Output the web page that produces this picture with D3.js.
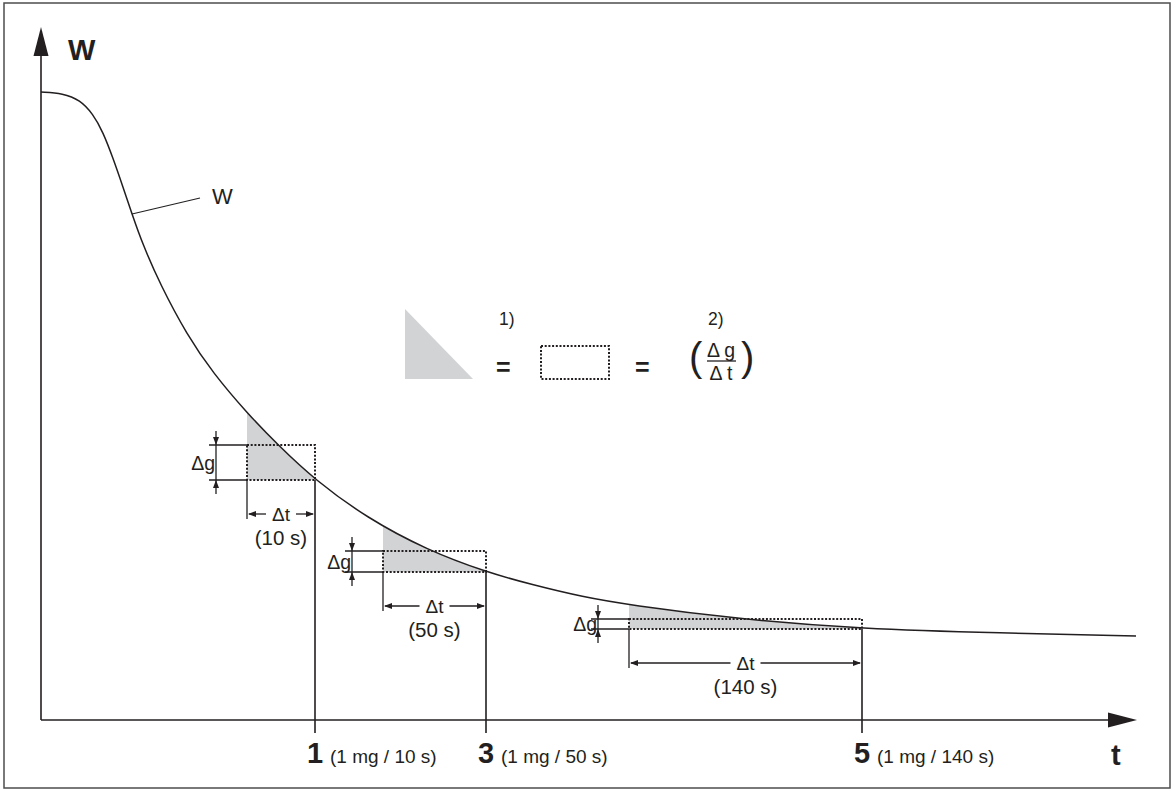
<!DOCTYPE html>
<html><head><meta charset="utf-8">
<script src="https://cdn.jsdelivr.net/npm/d3@7"></script>
<style>
body{margin:0;background:#fff}
text{font-family:"Liberation Sans",Arial,Helvetica,sans-serif;fill:#231f20}
</style>
</head><body>
<svg id="c" width="1174" height="791"></svg>
<script>
// ---- data (arbitrary schematic units) ----
const curveT = [0,2.2,3.9,5.2,6.2,7.2,8.2,9.1,10.2,11.9,14.6,17.2,20.6,23.7,27.4,32.6,38.6,44.5,49.2,54.2,58.8,69.6,82.1,95.9,109.5];
const curveW = [62.8,62.67,62.0,60.6,58.8,56.2,53.3,50.6,47.5,43.6,38.5,34.7,30.7,27.5,24.0,20.2,17.0,14.8,13.5,12.3,11.5,10.1,9.1,8.7,8.4];
const stepLabels = ["1","3","5"];
const stepRates = ["(1 mg / 10 s)","(1 mg / 50 s)","(1 mg / 140 s)"];
const intervalLabels = ["(10 s)","(50 s)","(140 s)"];
const tStart = [20.6,34.2,58.8];
const tEnd = [27.4,44.5,82.1];
const gTop = [27.5,16.9,10.1];
const gBottom = [24.0,14.8,9.1];
const curveLabel = {t:9.1, w:50.6, lt:15.9, lw:52.2, text:"W"};

const ink = "#231f20", gray = "#d1d3d4";
const svg = d3.select("#c");
const x = d3.scaleLinear().domain([0,109.6]).range([41,1137]);
const y = d3.scaleLinear().domain([0,69.3]).range([720,27]);
const pts = curveT.map((t,i)=>({t, w:curveW[i]}));

// border
svg.append("rect").attr("x",4).attr("y",3).attr("width",1166).attr("height",785)
  .attr("fill","none").attr("stroke","#4d4d4d").attr("stroke-width",1.5);

// axes
const x0=x(0), y0=y(0);
svg.append("line").attr("x1",x0).attr("y1",y0).attr("x2",x0).attr("y2",56).attr("stroke",ink).attr("stroke-width",1.6);
svg.append("path").attr("d",`M${x0},${y(69.3)}L${x0-7.5},56L${x0+7.5},56Z`).attr("fill",ink);
svg.append("line").attr("x1",x0).attr("y1",y0).attr("x2",1108).attr("y2",y0).attr("stroke",ink).attr("stroke-width",1.6);
svg.append("path").attr("d",`M${x(109.6)},${y0}L1108,${y0-7.5}L1108,${y0+7.5}Z`).attr("fill",ink);
svg.append("text").attr("x",68).attr("y",60).attr("font-size",29).attr("font-weight","bold").text("W");
svg.append("text").attr("x",1111).attr("y",765).attr("font-size",29).attr("font-weight","bold").text("t");

const cv = d3.curveBasis;
const lineGen = d3.line().x(d=>x(d.t)).y(d=>y(d.w)).curve(cv);
const areaGen = d3.area().x(d=>x(d.t)).y0(y0).y1(d=>y(d.w)).curve(cv);
const defs = svg.append("defs");

function arrowHead(g, tipX, tipY, dir){
  const L=8, H=3;
  let p;
  if(dir==='l') p=`M${tipX},${tipY}L${tipX+L},${tipY-H}L${tipX+L},${tipY+H}Z`;
  if(dir==='r') p=`M${tipX},${tipY}L${tipX-L},${tipY-H}L${tipX-L},${tipY+H}Z`;
  if(dir==='d') p=`M${tipX},${tipY}L${tipX-H},${tipY-L}L${tipX+H},${tipY-L}Z`;
  if(dir==='u') p=`M${tipX},${tipY}L${tipX-H},${tipY+L}L${tipX+H},${tipY+L}Z`;
  g.append("path").attr("d",p).attr("fill",ink);
}

tStart.forEach((ts,i)=>{
  const xa=x(ts), xb=x(tEnd[i]), yt=y(gTop[i]), yb=y(gBottom[i]);
  defs.append("clipPath").attr("id","cp"+i).append("rect")
    .attr("x",xa).attr("y",0).attr("width",xb-xa).attr("height",yb);
  svg.append("path").datum(pts).attr("d",areaGen).attr("fill",gray).attr("clip-path",`url(#cp${i})`);
  svg.append("rect").attr("x",xa).attr("y",yt).attr("width",xb-xa).attr("height",yb-yt)
    .attr("fill","none").attr("stroke",ink).attr("stroke-width",2).attr("stroke-dasharray","2,1.7");
});

svg.append("path").datum(pts).attr("d",lineGen).attr("fill","none").attr("stroke",ink).attr("stroke-width",1.5);

// curve label
svg.append("line").attr("x1",x(curveLabel.t)).attr("y1",y(curveLabel.w)).attr("x2",x(curveLabel.lt)).attr("y2",y(curveLabel.lw))
  .attr("stroke",ink).attr("stroke-width",1.2);
svg.append("text").attr("x",x(curveLabel.lt)+12).attr("y",y(curveLabel.lw)+6).attr("font-size",22).text(curveLabel.text);

const g = svg.append("g");
tStart.forEach((ts,i)=>{
  const xa=x(ts), xb=x(tEnd[i]), yt=y(gTop[i]), yb=y(gBottom[i]);
  const sw=1.3;
  g.append("line").attr("x1",xb).attr("y1",yb).attr("x2",xb).attr("y2",y0+13).attr("stroke",ink).attr("stroke-width",1.6);
  const ay = yb+34;
  g.append("line").attr("x1",xa).attr("y1",yb).attr("x2",xa).attr("y2",ay+5).attr("stroke",ink).attr("stroke-width",sw);
  const cx=(xa+xb)/2;
  g.append("line").attr("x1",xa+2).attr("y1",ay).attr("x2",cx-15).attr("y2",ay).attr("stroke",ink).attr("stroke-width",sw);
  g.append("line").attr("x1",cx+15).attr("y1",ay).attr("x2",xb-2).attr("y2",ay).attr("stroke",ink).attr("stroke-width",sw);
  arrowHead(g, xa+1, ay, 'l');
  arrowHead(g, xb-1, ay, 'r');
  g.append("text").attr("x",cx).attr("y",ay+7).attr("font-size",19).attr("text-anchor","middle").text("Δt");
  g.append("text").attr("x",cx).attr("y",ay+31).attr("font-size",20.5).attr("text-anchor","middle").text(intervalLabels[i]);
  const vx = xa-31;
  g.append("line").attr("x1",xa-38).attr("y1",yt).attr("x2",xa).attr("y2",yt).attr("stroke",ink).attr("stroke-width",sw);
  g.append("line").attr("x1",xa-38).attr("y1",yb).attr("x2",xa).attr("y2",yb).attr("stroke",ink).attr("stroke-width",sw);
  g.append("line").attr("x1",vx).attr("y1",yt-14).attr("x2",vx).attr("y2",yb+14).attr("stroke",ink).attr("stroke-width",sw);
  arrowHead(g, vx, yt, 'd');
  arrowHead(g, vx, yb, 'u');
  g.append("text").attr("x",vx-1).attr("y",(yt+yb)/2+7).attr("font-size",19.5).attr("text-anchor","end").text("Δg");
  g.append("text").attr("x",xb).attr("y",763).attr("text-anchor","middle").attr("font-size",29).attr("font-weight","bold").text(stepLabels[i]);
  g.append("text").attr("x",xb+15).attr("y",763).attr("font-size",19).text(stepRates[i]);
});

// legend
const lg = svg.append("g");
lg.append("path").attr("d","M405,309L405,379L473,379Z").attr("fill",gray);
lg.append("text").attr("x",499).attr("y",325).attr("font-size",17.5).text("1)");
lg.append("text").attr("x",496).attr("y",376).attr("font-size",25).attr("font-weight","bold").text("=");
lg.append("rect").attr("x",541).attr("y",346).attr("width",68).attr("height",33)
  .attr("fill","none").attr("stroke",ink).attr("stroke-width",2).attr("stroke-dasharray","2,1.7");
lg.append("text").attr("x",635).attr("y",376).attr("font-size",25).attr("font-weight","bold").text("=");
lg.append("text").attr("x",708).attr("y",325).attr("font-size",17.5).text("2)");
lg.append("text").attr("x",689).attr("y",371).attr("font-size",40).text("(");
lg.append("text").attr("x",741).attr("y",371).attr("font-size",40).text(")");
lg.append("text").attr("x",721).attr("y",357).attr("font-size",19.5).attr("text-anchor","middle").text("Δ g");
lg.append("line").attr("x1",707).attr("y1",361).attr("x2",736).attr("y2",361).attr("stroke",ink).attr("stroke-width",1.3);
lg.append("text").attr("x",721).attr("y",380).attr("font-size",19.5).attr("text-anchor","middle").text("Δ t");
</script>
</body></html>
